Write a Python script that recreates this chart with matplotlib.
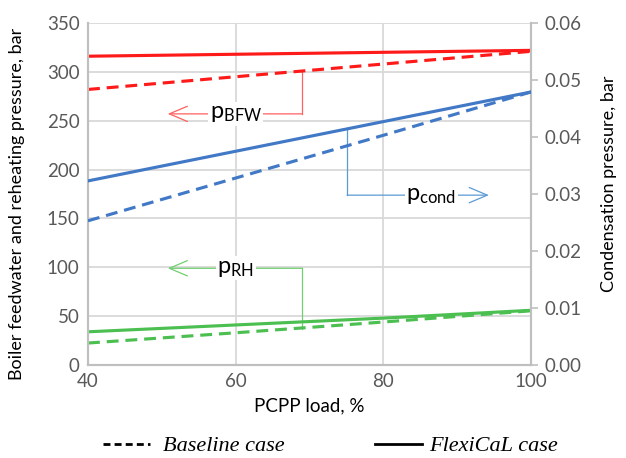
import numpy as np
import matplotlib.pyplot as plt
from matplotlib.lines import Line2D

# PCPP load, %
load = [40, 60, 80, 100]

# boiler feedwater pressure, bar
bfw_flexi = [316, 318, 320, 322]
bfw_base = [282, 295, 308, 321]
# reheating pressure, bar
rh_flexi = [34, 41, 48, 56]
rh_base = [22.5, 33, 44, 55.5]
# condensation pressure, bar (right axis)
cond_flexi = [0.0323, 0.0375, 0.0427, 0.0479]
cond_base = [0.0253, 0.0328, 0.0403, 0.0479]

RED, BLUE, GREEN = "#FF1A1A", "#4179C6", "#4BBF50"
GRID, SPINE, TXT = "#D9D9D9", "#BFBFBF", "#595959"

plt.rcParams['font.family'] = ['Lato', 'DejaVu Sans']
plt.rcParams['mathtext.fontset'] = 'custom'
plt.rcParams['mathtext.rm'] = 'Lato'
plt.rcParams['mathtext.it'] = 'Lato'

fig = plt.figure(figsize=(6.26, 4.58), dpi=100)
ax = fig.add_axes([0.1406, 0.203, 0.7076, 0.7468])
ax2 = ax.twinx()

lw = 2.25
dash = (3.8, 2.2)
ax.plot(load, bfw_flexi, color=RED, lw=lw, zorder=3)
ax.plot(load, bfw_base, color=RED, lw=lw, dashes=dash, zorder=3)
ax.plot(load, rh_flexi, color=GREEN, lw=lw, zorder=3)
ax.plot(load, rh_base, color=GREEN, lw=lw, dashes=dash, zorder=3)
ax2.plot(load, cond_flexi, color=BLUE, lw=lw, zorder=3)
ax2.plot(load, cond_base, color=BLUE, lw=lw, dashes=dash, zorder=3)

ax.set_xlim(40, 100)
ax.set_ylim(0, 350)
ax2.set_ylim(0, 0.06)
ax.set_xticks([40, 60, 80, 100])
ax.set_yticks(np.arange(0, 351, 50))
ax2.set_yticks(np.arange(0, 0.061, 0.01))
ax2.yaxis.set_major_formatter(plt.FuncFormatter(lambda v, p: f"{v:.2f}"))

ax.grid(True, color=GRID, lw=1.3, zorder=0)
ax.set_axisbelow(True)
for a in (ax, ax2):
    a.spines['top'].set_visible(False)
    for s in ('left', 'right', 'bottom'):
        a.spines[s].set_color(SPINE)
        a.spines[s].set_linewidth(1.5)
ax.tick_params(axis='both', length=0, labelsize=13.5, colors=TXT, pad=6)
ax2.tick_params(axis='y', length=5, width=1.2, color=SPINE, labelsize=13.5,
                labelcolor=TXT, pad=5)

ax.set_xlabel("PCPP load, %", fontsize=13.5, labelpad=5)
ax.set_ylabel("Boiler feedwater and reheating pressure, bar", fontsize=13)
ax.yaxis.set_label_coords(-0.143, 0.47)
ax2.set_ylabel("Condensation pressure, bar", fontsize=13)
ax2.yaxis.set_label_coords(1.158, 0.53)

# annotation callouts
def callout(a, pts, color, label, lx, ly):
    xs, ys = zip(*pts)
    a.plot(xs[:-1], ys[:-1], color=color, lw=0.9, zorder=2)
    a.annotate("", xy=pts[-1], xytext=pts[-2],
               arrowprops=dict(arrowstyle="->,head_length=1.3,head_width=0.55",
                               color=color, lw=0.9, shrinkA=0, shrinkB=0), zorder=2)
    a.text(lx, ly, label, fontsize=17, ha='center', va='center', zorder=4,
           bbox=dict(facecolor='white', edgecolor='none', pad=1))

callout(ax, [(69, 300), (69, 257), (50.8, 257)], "#FF6060", r"p$_{\mathregular{BFW}}$", 60, 257)
callout(ax, [(69, 37), (69, 99), (50.8, 99)], "#70D070", r"p$_{\mathregular{RH}}$", 60, 99)
callout(ax2, [(75.1, 0.0413), (75.1, 0.0298), (94.3, 0.0298)], "#5B9BD5",
        r"p$_{\mathregular{cond}}$", 86.5, 0.0298)

# legend, two entries placed apart
leg_font = {'family': 'Liberation Serif', 'style': 'italic', 'size': 16}
entries = [(Line2D([], [], color='black', lw=2, dashes=(2.5, 1.5)), "Baseline case", 0.1645, 0.6),
           (Line2D([], [], color='black', lw=2), "FlexiCaL case", 0.599, 0.35)]
for h, lab, x0, pad in entries:
    fig.legend([h], [lab], loc='center left', bbox_to_anchor=(x0, 0.026),
               frameon=False, handlelength=2.1, handletextpad=pad,
               borderpad=0, borderaxespad=0, prop=leg_font)

fig.savefig("out.png", dpi=100)
